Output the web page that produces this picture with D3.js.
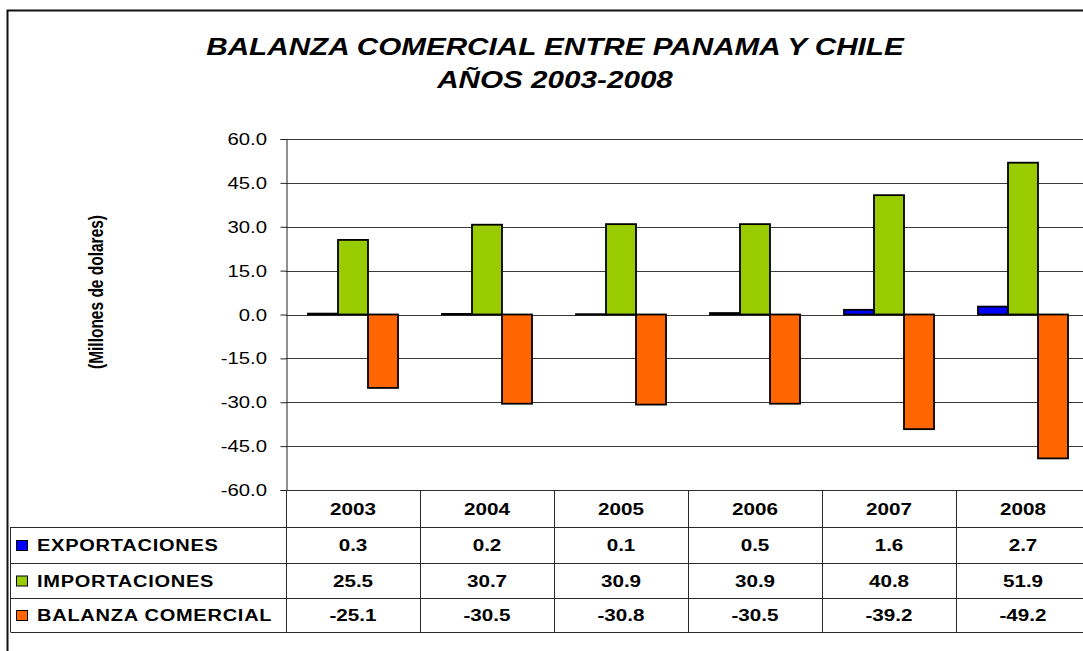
<!DOCTYPE html>
<html><head><meta charset="utf-8">
<script src="https://cdn.jsdelivr.net/npm/d3@7"></script>
<style>body{margin:0;background:#fff}svg{display:block}text{font-family:Arial,"Liberation Sans",sans-serif;fill:#000}</style>
</head><body><svg id="c" width="1083" height="651"></svg>
<script>
const years=["2003","2004","2005","2006","2007","2008"];
const seriesNames=["EXPORTACIONES","IMPORTACIONES","BALANZA COMERCIAL"];
const exportaciones=[0.3,0.2,0.1,0.5,1.6,2.7];
const importaciones=[25.5,30.7,30.9,30.9,40.8,51.9];
const balanza=[-25.1,-30.5,-30.8,-30.5,-39.2,-49.2];
const seriesColors=["#0000FF","#99CC00","#FF6600"];
const yTicks=[-60,-45,-30,-15,0,15,30,45,60];
const titleLines=["BALANZA COMERCIAL ENTRE PANAMA Y CHILE","AÑOS 2003-2008"];
const yTitle="(Millones de dolares)";

const seriesValues=[exportaciones,importaciones,balanza];
const SX=1.29;
const fmt=v=>d3.format(".1f")(v).replace("\u2212","-");
const svg=d3.select("#c");
const L=286,R=1090,T=139,B=490;
const rowY=[490,527,563,598,632];

// outer frame
svg.append("rect").attr("x",7.5).attr("y",10.5).attr("width",1200).attr("height",800)
  .attr("fill","none").attr("stroke","#111").attr("stroke-width",2);

function txt(g,x,y,s,opts){
  return g.append("text").attr("transform",`translate(${x},${y}) scale(${opts.sx||SX},1)`)
   .attr("text-anchor",opts.anchor||"middle").style("font-size",opts.size+"px")
   .style("letter-spacing",(opts.ls||0)+"px")
   .style("font-weight",opts.weight||"normal").style("font-style",opts.style||"normal").text(s);
}

// title
titleLines.forEach((s,i)=>txt(svg,555,55+i*33,s,{size:23,weight:"bold",style:"italic"}));

const x0=d3.scaleBand().domain(years).range([L,R]).padding(0);
const x1=d3.scaleBand().domain(seriesNames).range([0,x0.bandwidth()]).paddingInner(0).paddingOuter(0.733);
const y=d3.scaleLinear().domain([-60,60]).range([B,T]);

// gridlines
svg.append("g").selectAll("line").data(yTicks).join("line")
  .attr("x1",L).attr("x2",R).attr("y1",d=>Math.round(y(d))+0.5).attr("y2",d=>Math.round(y(d))+0.5)
  .attr("stroke","#3a3a3a").attr("stroke-width",1);

// y axis
const ya=svg.append("g").attr("transform",`translate(${L+0.5},0)`)
  .call(d3.axisLeft(y).tickValues(yTicks).tickSize(6).tickFormat(()=>""));
ya.select(".domain").attr("stroke","#222");
ya.selectAll(".tick line").attr("stroke","#222");
yTicks.forEach(v=>txt(svg,267,y(v)+6,fmt(v),{size:16,anchor:"end",sx:1.27}));

// y title
svg.append("text").attr("transform",`translate(103,292) rotate(-90) scale(1,${SX})`)
  .attr("text-anchor","middle").style("font-size","15.5px").style("font-weight","bold").text(yTitle);

// bars
const groups=svg.append("g").selectAll("g").data(years).join("g")
  .attr("transform",d=>`translate(${x0(d)},0)`);
groups.selectAll("rect").data((d,i)=>seriesNames.map((s,j)=>({s,j,v:seriesValues[j][i]}))).join("rect")
  .attr("x",d=>x1(d.s)).attr("width",x1.bandwidth())
  .attr("y",d=>y(Math.max(0,d.v))).attr("height",d=>Math.abs(y(d.v)-y(0)))
  .attr("fill",d=>seriesColors[d.j]).attr("stroke","#000").attr("stroke-width",1.8);

// table
const tg=svg.append("g");
const lineC="#2a2a2a";
rowY.forEach((ry,i)=>{
  tg.append("line").attr("x1",i===0?L:10.5).attr("x2",R).attr("y1",ry+0.5).attr("y2",ry+0.5)
    .attr("stroke",lineC).attr("stroke-width",1);
});
tg.append("line").attr("x1",10.5).attr("x2",10.5).attr("y1",rowY[1]).attr("y2",rowY[4]).attr("stroke",lineC);
years.forEach(yr=>{
  const xx=Math.round(x0(yr))+0.5;
  tg.append("line").attr("x1",xx).attr("x2",xx).attr("y1",rowY[0]).attr("y2",rowY[4]).attr("stroke",lineC);
});
years.forEach(yr=>txt(tg,x0(yr)+x0.bandwidth()/2,(rowY[0]+rowY[1])/2+6,yr,{size:16,weight:"bold"}));
seriesNames.forEach((s,j)=>{
  const cy=(rowY[j+1]+rowY[j+2])/2;
  tg.append("rect").attr("x",16.5).attr("y",cy-4.5).attr("width",11).attr("height",10)
    .attr("fill",seriesColors[j]).attr("stroke","#000").attr("stroke-width",1);
  txt(tg,37,cy+6,s,{size:16,weight:"bold",anchor:"start",sx:1.25,ls:0.6});
  years.forEach((yr,i)=>txt(tg,x0(yr)+x0.bandwidth()/2,cy+6,fmt(seriesValues[j][i]),{size:16,weight:"bold"}));
});
</script></body></html>
